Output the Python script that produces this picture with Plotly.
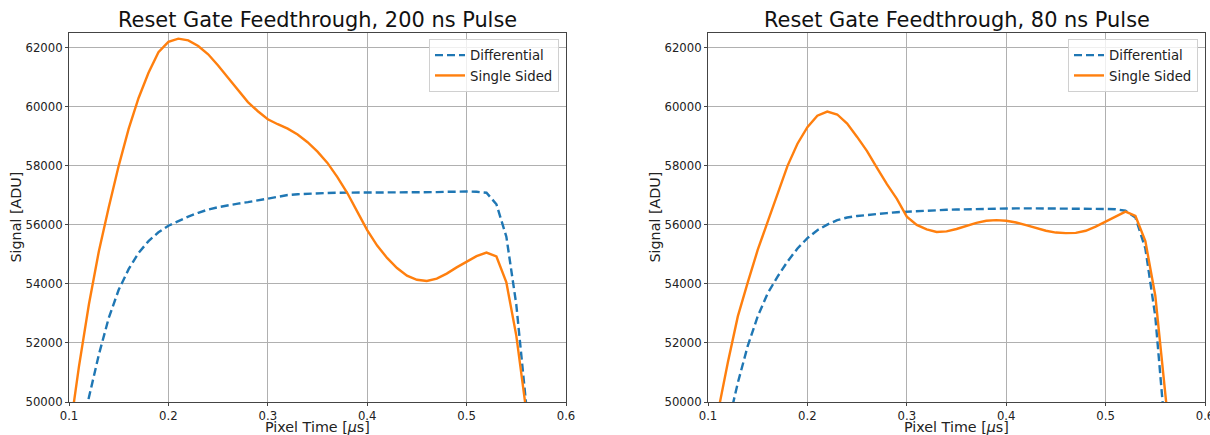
import plotly.graph_objects as go

t = [round(0.10 + 0.01 * i, 2) for i in range(48)]  # 0.10 .. 0.57

diff_200 = [46500, 48500, 50150, 51600, 52850, 53800, 54500, 55050, 55450, 55750,
            55970, 56130, 56280, 56410, 56520, 56600, 56670, 56720, 56770, 56830,
            56900, 56960, 57010, 57040, 57060, 57070, 57080, 57090, 57090, 57090,
            57090, 57090, 57090, 57090, 57090, 57100, 57100, 57110, 57120, 57130,
            57130, 57120, 57090, 56700, 55600, 53300, 50100, 46500]
single_200 = [48800, 51200, 53300, 55100, 56600, 58000, 59250, 60300, 61150, 61850,
              62200, 62310, 62250, 62060, 61780, 61400, 60980, 60560, 60160, 59850,
              59580, 59410, 59260, 59060, 58800, 58480, 58100, 57620, 57080, 56450,
              55820, 55300, 54880, 54540, 54280, 54140, 54100, 54180, 54350, 54560,
              54760, 54940, 55060, 54930, 54050, 52250, 49700, 47000]
diff_80 = [45500, 47400, 49200, 50650, 51900, 52900, 53680, 54250, 54760, 55200,
           55550, 55820, 56010, 56160, 56250, 56300, 56340, 56370, 56400, 56430,
           56450, 56470, 56490, 56500, 56510, 56520, 56530, 56540, 56550, 56555,
           56560, 56560, 56560, 56560, 56560, 56560, 56555, 56555, 56550, 56545,
           56540, 56530, 56480, 56250, 55200, 52900, 49300, 45000]
single_80 = [48200, 49650, 51350, 52900, 54050, 55150, 56100, 57050, 58000, 58750,
             59310, 59700, 59840, 59740, 59430, 58980, 58500, 57930, 57380, 56880,
             56280, 56000, 55850, 55760, 55780, 55860, 55970, 56070, 56140, 56160,
             56140, 56080, 55990, 55890, 55800, 55740, 55720, 55730, 55800, 55940,
             56110, 56300, 56450, 56300, 55450, 53600, 50600, 47000]

titles = ["Reset Gate Feedthrough, 200 ns Pulse", "Reset Gate Feedthrough, 80 ns Pulse"]
x_title = "Pixel Time [<i>μ</i>s]"
y_title = "Signal [ADU]"
x_ticks = [0.1, 0.2, 0.3, 0.4, 0.5, 0.6]
y_ticks = [50000, 52000, 54000, 56000, 58000, 60000, 62000]

BLUE = "#1f77b4"
ORANGE = "#ff7f0e"
FONT = "DejaVu Sans"
W, H = 1210, 435

fig = go.Figure()
panels = [(diff_200, single_200, "x", "y", "legend"), (diff_80, single_80, "x2", "y2", "legend2")]
for d, s, xa, ya, lg in panels:
    fig.add_trace(go.Scatter(x=t, y=d, mode="lines", name="Differential", xaxis=xa, yaxis=ya,
                             legend=lg, line=dict(color=BLUE, width=2.4, dash="8px,4px")))
    fig.add_trace(go.Scatter(x=t, y=s, mode="lines", name="Single Sided", xaxis=xa, yaxis=ya,
                             legend=lg, line=dict(color=ORANGE, width=2.4)))

doms = [(69 / W, 566 / W), (708 / W, 1205 / W)]
ydom = (1 - 402 / H, 1 - 33 / H)

axis_common = dict(showline=True, mirror=True, linecolor="#444", linewidth=1,
                   showgrid=True, gridcolor="#b0b0b0", gridwidth=0.8,
                   ticks="outside", ticklen=3, tickcolor="#444",
                   tickfont=dict(family=FONT, size=11.7, color="#222"),
                   zeroline=False, automargin=False, ticklabeloverflow="allow")

layout = dict(width=W, height=H, margin=dict(l=0, r=0, t=0, b=0),
              paper_bgcolor="white", plot_bgcolor="white",
              font=dict(family=FONT, color="#222"))
for i, (dom, name) in enumerate(zip(doms, ["", "2"])):
    xk, yk = "xaxis" + name, "yaxis" + name
    layout[xk] = dict(domain=list(dom), range=[0.1, 0.6], tickvals=x_ticks,
                      ticktext=[str(v) for v in x_ticks], anchor="y" + name, **axis_common)
    layout[yk] = dict(domain=list(ydom), range=[50000, 62500], tickvals=y_ticks,
                      ticktext=[str(v) for v in y_ticks], anchor="x" + name, **axis_common)
    lgname = "legend" + name
    layout[lgname] = dict(x=dom[1] - 7 / W, y=ydom[1] - 6 / H, xanchor="right", yanchor="top",
                          bgcolor="rgba(255,255,255,0.8)", bordercolor="#d0d0d0", borderwidth=1,
                          font=dict(family=FONT, size=13.3, color="#222"),
                          tracegroupgap=0, itemwidth=30)

fig.update_layout(**layout)
for i, (dom, title) in enumerate(zip(doms, titles)):
    fig.add_annotation(text=title, x=(dom[0] + dom[1]) / 2, y=1 - 20 / H, xref="paper", yref="paper",
                       xanchor="center", yanchor="middle", showarrow=False,
                       font=dict(family=FONT, size=20.9, color="#111"))
    fig.add_annotation(text=x_title, x=(dom[0] + dom[1]) / 2, y=1 - 426.5 / H, xref="paper", yref="paper",
                       xanchor="center", yanchor="middle", showarrow=False, borderpad=0,
                       font=dict(family=FONT, size=14.3, color="#222"))
    fig.add_annotation(text=y_title, x=dom[0] - 54 / W, y=(ydom[0] + ydom[1]) / 2, xref="paper", yref="paper",
                       xanchor="center", yanchor="middle", showarrow=False, textangle=-90,
                       font=dict(family=FONT, size=14.3, color="#222"))

fig.write_html("out.html")
